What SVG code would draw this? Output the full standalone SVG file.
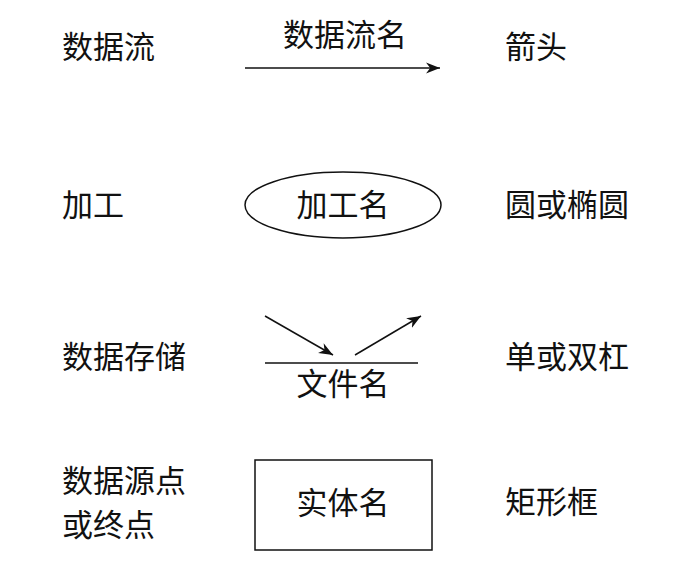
<svg xmlns="http://www.w3.org/2000/svg" width="678" height="570" viewBox="0 0 678 570">
<style>
text{font-family:"Noto Sans CJK SC","Noto Sans",sans-serif;font-size:31px;fill:#111}
.c{text-anchor:middle}
.s{stroke:#111;stroke-width:1.5;fill:none}
</style>
<defs><marker id="a" viewBox="0 0 10 10" refX="10" refY="5" markerWidth="14" markerHeight="14" markerUnits="userSpaceOnUse" orient="auto"><path d="M0,1 L10,5 L0,9 L3,5 Z" fill="#111"/></marker></defs>
<rect width="678" height="570" fill="#fff"/>
<g id="labels">
<text x="62" y="58">数据流</text>
<text x="505" y="58">箭头</text>
<text x="62" y="216">加工</text>
<text x="505" y="216">圆或椭圆</text>
<text x="62" y="368">数据存储</text>
<text x="505" y="368">单或双杠</text>
<text x="62" y="492">数据源点</text>
<text x="62" y="536">或终点</text>
<text x="505" y="513">矩形框</text>
</g>
<g id="dataflow"><text class="c" x="345" y="46">数据流名</text></g>
<g id="process"><ellipse class="s" cx="343" cy="205" rx="98" ry="33"/><text class="c" x="343" y="216">加工名</text></g>
<g id="store"><line class="s" x1="265" y1="363" x2="418" y2="363"/><text class="c" x="343" y="395">文件名</text></g>
<g id="entity"><rect class="s" x="255" y="460" width="177" height="90"/><text class="c" x="343" y="514">实体名</text></g>
<g id="connectors">
<line class="s" x1="245" y1="68" x2="440" y2="68" marker-end="url(#a)"/>
<line class="s" x1="265" y1="316" x2="333" y2="355" marker-end="url(#a)"/>
<line class="s" x1="355" y1="355" x2="421" y2="316" marker-end="url(#a)"/>
</g>
</svg>
